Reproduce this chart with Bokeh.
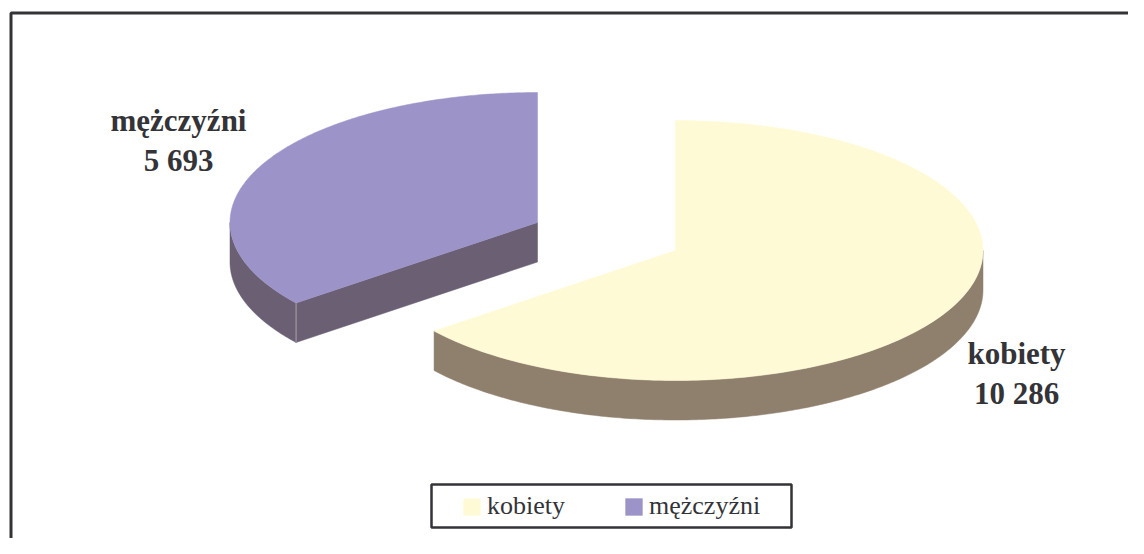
import numpy as np
from bokeh.core.properties import value
from bokeh.embed import file_html
from bokeh.models import Legend, LegendItem, Range1d
from bokeh.plotting import figure
from bokeh.resources import INLINE

categories = ["kobiety", "mężczyźni"]
values = [10286, 5693]
top_colors = ["#FFFAD6", "#9C94C8"]
side_colors = ["#8F7F6D", "#6B5F73"]
ink = "#333338"

# canvas uses picture pixels, y downwards
W, H = 1128, 538
p = figure(width=W, height=H, output_backend="svg", toolbar_location=None,
           x_range=Range1d(0, W), y_range=Range1d(H, 0),
           min_border=0, background_fill_color="white", border_fill_color="white",
           outline_line_color=None)
p.axis.visible = False
p.grid.visible = False

RX, RY, DEPTH = 307.5, 130, 39.5
centers = [(675, 250), (537, 222)]


def arc(cx, cy, a0, a1, n=200):
    t = np.radians(np.linspace(a0, a1, n))
    return cx + RX * np.sin(t), cy - RY * np.cos(t)


split = 360 * values[0] / sum(values)
spans = [(0, split), (split, 360)]

# frame: only top and left edges fall inside the picture
p.line([10.5, 10.5, W], [H, 12.5, 12.5], line_color=ink, line_width=3)

tops = []
for (cx, cy), (a0, a1), top, side in zip(centers, spans, top_colors, side_colors):
    # visible outer wall: the part of the rim between 90 and 270 degrees
    v0, v1 = max(a0, 90), min(a1, 270)
    if v1 > v0:
        x, y = arc(cx, cy, v0, v1)
        p.patch(np.r_[x, x[::-1]], np.r_[y, y[::-1] + DEPTH],
                fill_color=side, line_color=side, line_width=0.5)
    # visible cut wall, facing the viewer
    ex, ey = arc(cx, cy, a0, a0, 1)
    if a0 > 180:
        p.patch([ex[0], cx, cx, ex[0]], [ey[0], cy, cy + DEPTH, ey[0] + DEPTH],
                fill_color=side, line_color=side, line_width=0.5)
        p.line([ex[0], ex[0]], [ey[0], ey[0] + DEPTH], line_color="#A9A3B0", line_width=1)
    x, y = arc(cx, cy, a0, a1)
    tops.append(p.patch(np.r_[cx, x], np.r_[cy, y], fill_color=top, line_color=top, line_width=0.5))

# data labels
label_pos = [(1016, 353, 393), (178, 120, 160)]
for cat, val, (lx, y1, y2) in zip(categories, values, label_pos):
    txt = f"{val:,}".replace(",", " ")
    p.text([lx, lx], [y1, y2], text=[cat, txt], text_align="center", text_baseline="alphabetic",
           text_font=value("Liberation Serif"), text_font_style="bold",
           text_font_size="31px", text_color=ink)

# legend box
p.quad(left=[431], right=[791], top=[484], bottom=[527], fill_color="white", line_color=ink, line_width=2.5)
legend = Legend(
    items=[LegendItem(label=c, renderers=[r]) for c, r in zip(categories, tops)],
    orientation="horizontal", location=(461, H - 521),
    glyph_width=21, glyph_height=21, label_standoff=5, spacing=58, padding=0, margin=0,
    label_text_font="Liberation Serif", label_text_font_size="26px", label_text_color=ink,
    border_line_color=None, background_fill_alpha=0,
)
p.add_layout(legend)

open("out.html", "w").write(file_html(p, INLINE))
